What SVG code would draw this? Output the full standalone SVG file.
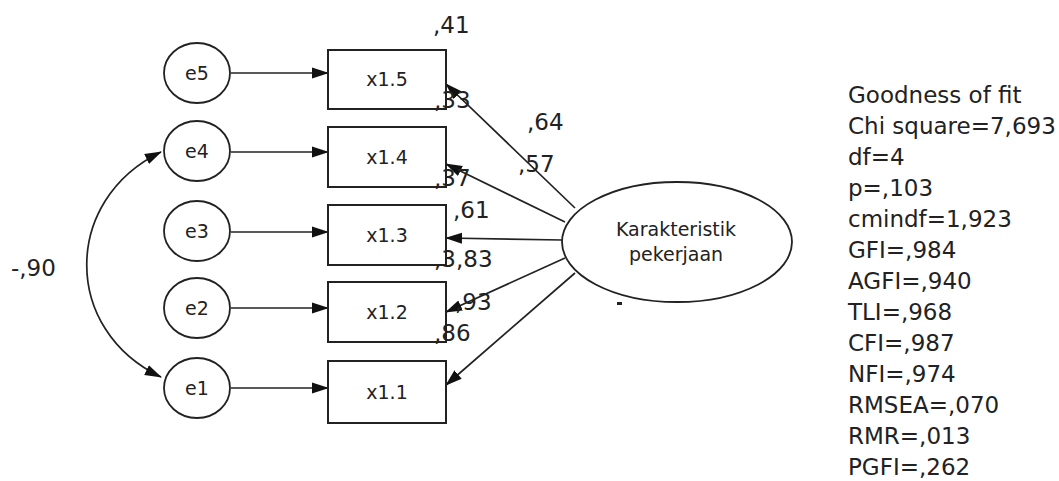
<svg xmlns="http://www.w3.org/2000/svg" width="1059" height="481" viewBox="0 0 1059 481">
<defs>
<marker id="ah" markerUnits="userSpaceOnUse" markerWidth="17" markerHeight="12" viewBox="0 0 17 12" refX="16" refY="6" orient="auto-start-reverse">
<path d="M0,0.5 L17,6 L0,11.5 Z" fill="#111"/>
</marker>
<style>
.box{fill:#fff;stroke:#222;stroke-width:2}
.err{fill:#fff;stroke:#222;stroke-width:1.8}
.lat{fill:#fff;stroke:#222;stroke-width:1.8}
.lbl{font-family:"DejaVu Sans",sans-serif;font-size:19px;fill:#222;text-anchor:middle}
.num{font-family:"DejaVu Sans",sans-serif;font-size:23px;fill:#222}
.fit{font-family:"DejaVu Sans",sans-serif;font-size:23px;fill:#222}
.con{fill:none;stroke:#222;stroke-width:1.7;marker-end:url(#ah)}
</style>
</defs>
<rect width="1059" height="481" fill="#fff"/>
<g id="connectors">
<path class="con" d="M231,73 L328,73"/>
<path class="con" d="M231,152 L328,152"/>
<path class="con" d="M231,232 L328,232"/>
<path class="con" d="M231,308 L328,308"/>
<path class="con" d="M231,388 L328,388"/>
<path class="con" d="M575,208 L446,84"/>
<path class="con" d="M565,222 L446,164"/>
<path class="con" d="M562,240 L446,238"/>
<path class="con" d="M565,258 L446,312"/>
<path class="con" d="M575,273 L446,385"/>
<path class="con" style="marker-start:url(#ah)" d="M161,152 C62,200 62,330 161,377"/>
</g>
<g id="e5"><ellipse class="err" cx="197" cy="73" rx="33" ry="30"/><text class="lbl" x="197" y="80">e5</text></g>
<g id="e4"><ellipse class="err" cx="197" cy="151" rx="33" ry="30"/><text class="lbl" x="197" y="158">e4</text></g>
<g id="e3"><ellipse class="err" cx="197" cy="231" rx="33" ry="30"/><text class="lbl" x="197" y="238">e3</text></g>
<g id="e2"><ellipse class="err" cx="197" cy="308" rx="33" ry="30"/><text class="lbl" x="197" y="315">e2</text></g>
<g id="e1"><ellipse class="err" cx="197" cy="388" rx="33" ry="30"/><text class="lbl" x="197" y="395">e1</text></g>
<g id="x15"><rect class="box" x="328" y="50" width="118" height="59"/><text class="lbl" x="387" y="86">x1.5</text></g>
<g id="x14"><rect class="box" x="328" y="127" width="118" height="60"/><text class="lbl" x="387" y="164">x1.4</text></g>
<g id="x13"><rect class="box" x="328" y="205" width="118" height="60"/><text class="lbl" x="387" y="242">x1.3</text></g>
<g id="x12"><rect class="box" x="328" y="282" width="118" height="60"/><text class="lbl" x="387" y="319">x1.2</text></g>
<g id="x11"><rect class="box" x="328" y="361" width="118" height="62"/><text class="lbl" x="387" y="399">x1.1</text></g>
<g id="karakteristik">
<ellipse class="lat" cx="677" cy="242" rx="115" ry="60"/>
<text class="lbl" x="676" y="236">Karakteristik</text>
<text class="lbl" x="676" y="261">pekerjaan</text>
</g>
<g id="labels">
<text class="num" x="433" y="33">,41</text>
<text class="num" x="434" y="108">,33</text>
<text class="num" x="527" y="130">,64</text>
<text class="num" x="518" y="172">,57</text>
<text class="num" x="434" y="186">,37</text>
<text class="num" x="453" y="218">,61</text>
<text class="num" x="434" y="267">,3,83</text>
<text class="num" x="455" y="310">,93</text>
<text class="num" x="434" y="341">,86</text>
<text class="num" x="11" y="276">-,90</text>
</g>
<g id="fit">
<text class="fit" x="848" y="103">Goodness of fit</text>
<text class="fit" x="848" y="134">Chi square=7,693</text>
<text class="fit" x="848" y="165">df=4</text>
<text class="fit" x="848" y="196">p=,103</text>
<text class="fit" x="848" y="227">cmindf=1,923</text>
<text class="fit" x="848" y="258">GFI=,984</text>
<text class="fit" x="848" y="289">AGFI=,940</text>
<text class="fit" x="848" y="320">TLI=,968</text>
<text class="fit" x="848" y="351">CFI=,987</text>
<text class="fit" x="848" y="382">NFI=,974</text>
<text class="fit" x="848" y="413">RMSEA=,070</text>
<text class="fit" x="848" y="444">RMR=,013</text>
<text class="fit" x="848" y="475">PGFI=,262</text>
</g>
<rect x="617" y="302" width="5" height="3" fill="#222"/>
</svg>
